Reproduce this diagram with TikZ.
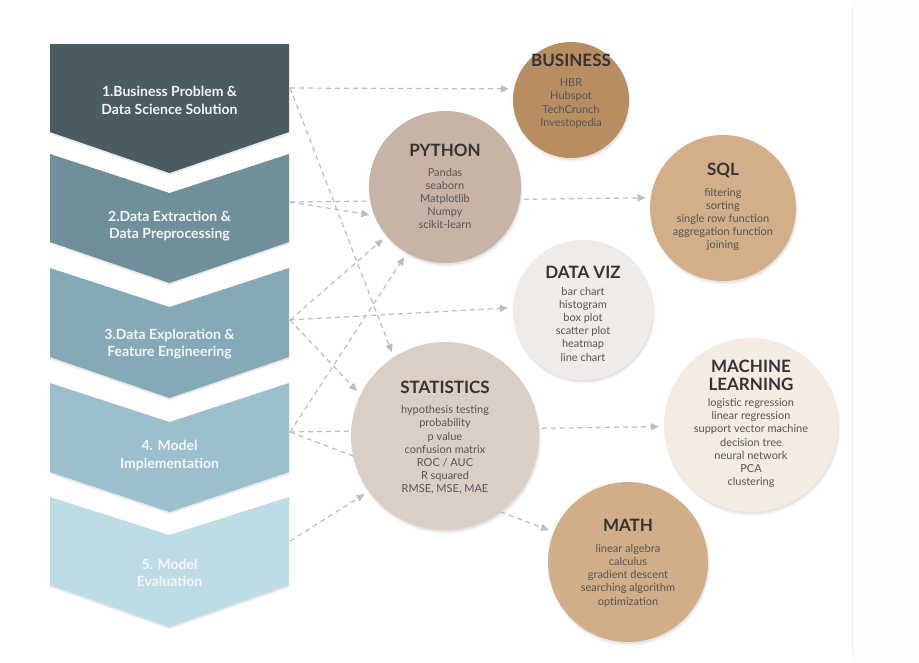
\documentclass[tikz,border=0pt]{standalone}
\usepackage{fontspec}
\setmainfont{Lato}
\usetikzlibrary{arrows.meta,shadows}

% step colours, top to bottom
\definecolor{stepA}{HTML}{4B5B63}
\definecolor{stepB}{HTML}{6F8F9B}
\definecolor{stepC}{HTML}{86A9B7}
\definecolor{stepD}{HTML}{9BBFCD}
\definecolor{stepE}{HTML}{BDDCE6}
% topic colours
\definecolor{cBus}{HTML}{B88D62}
\definecolor{cPy}{HTML}{C8B4A6}
\definecolor{cSql}{HTML}{D3AF89}
\definecolor{cViz}{HTML}{EFEBE8}
\definecolor{cStat}{HTML}{DBCEC5}
\definecolor{cMl}{HTML}{F4EBE3}
\definecolor{cMath}{HTML}{D1AE87}
\definecolor{ttlcol}{HTML}{333333}
\definecolor{itmcol}{HTML}{555555}
\definecolor{linkcol}{HTML}{BDBDBD}
\definecolor{panelcol}{HTML}{FDFDFD}
\definecolor{rulecol}{HTML}{F0F0F0}

\pgfdeclarelayer{links}
\pgfdeclarelayer{paper}
\pgfsetlayers{paper,links,main}

\tikzset{
  chev/.style={drop shadow={shadow xshift=0pt,shadow yshift=-2pt,opacity=0.18}},
  steptxt/.style={text=white!96!black,align=center,
    font=\fontsize{14}{17.5}\selectfont\bfseries},
  circ/.style={circle,inner sep=0pt,draw=none,
    drop shadow={shadow xshift=1.2pt,shadow yshift=-3pt,shadow scale=1.01,opacity=0.08},
    drop shadow={shadow xshift=0.8pt,shadow yshift=-2pt,opacity=0.14}},
  ttl/.style={text=ttlcol,align=center,font=\fontsize{17}{18}\selectfont\bfseries},
  itm/.style={text=itmcol,align=center,font=\fontsize{11}{13.2}\selectfont},
  link/.style={draw=linkcol,line width=1.2pt,dash pattern=on 5pt off 4pt,
    -{Triangle[length=8pt,width=7pt,fill=linkcol]},shorten >=5pt},
}

\begin{document}
\begin{tikzpicture}[x=1pt,y=-1pt]
\useasboundingbox (0,0) rectangle (919,662);
\begin{pgfonlayer}{paper}
  \fill[white] (0,0) rectangle (919,662);
  \fill[panelcol] (852,0) rectangle (919,662);
  \draw[rulecol,line width=0.6pt] (852,6) -- (852,655);
\end{pgfonlayer}

% process steps (chevrons)
\fill[stepA,chev] (50,44) -- (289,44) -- (289,132) -- (169.5,173) -- (50,132) -- cycle;
\fill[stepB,chev] (50,154) -- (169.5,193) -- (289,154) -- (289,242) -- (169.5,283) -- (50,242) -- cycle;
\fill[stepC,chev] (50,268) -- (169.5,307) -- (289,268) -- (289,357) -- (169.5,398) -- (50,357) -- cycle;
\fill[stepD,chev] (50,383) -- (169.5,422) -- (289,383) -- (289,472) -- (169.5,512) -- (50,472) -- cycle;
\fill[stepE,chev] (50,497) -- (169.5,535) -- (289,497) -- (289,585) -- (169.5,627) -- (50,585) -- cycle;

\node[steptxt] (s1) at (169.5,100.5) {1.Business Problem \&\\Data Science Solution};
\node[steptxt] (s2) at (169.5,226) {2.Data Extraction \&\\Data Preprocessing};
\node[steptxt] (s3) at (169.5,344) {3.Data Exploration \&\\Feature Engineering};
\node[steptxt] (s4) at (169.5,455.5) {4. Model\\Implementation};
\node[steptxt] (s5) at (169.5,573) {5. Model\\Evaluation};

\coordinate (o1) at (290,88);
\coordinate (o2) at (290,202);
\coordinate (o3) at (290,320);
\coordinate (o4) at (290,432);
\coordinate (o5) at (290,541);

% topic circles
\node[circ,fill=cBus,minimum size=116pt]  (bus) at (571,100) {};
\node[circ,fill=cPy,minimum size=152pt]   (py)  at (445,187) {};
\node[circ,fill=cSql,minimum size=146pt]  (sql) at (723,208) {};
\node[circ,fill=cViz,minimum size=140pt]  (dv)  at (583,310) {};
\node[circ,fill=cStat,minimum size=188pt] (st)  at (445,436) {};
\node[circ,fill=cMl,minimum size=174pt]   (ml)  at (751,425) {};
\node[circ,fill=cMath,minimum size=160pt] (ma)  at (628,562) {};

\node[ttl] (busT) at (571,60) {BUSINESS};
\node[itm] (busI) at (571,103.5) {HBR\\Hubspot\\TechCrunch\\Investopedia};

\node[ttl] (pyT) at (445,150) {PYTHON};
\node[itm] (pyI) at (445,198.5) {Pandas\\seaborn\\Matplotlib\\Numpy\\scikit-learn};

\node[ttl] (sqlT) at (723,170) {SQL};
\node[itm] (sqlI) at (723,219.5) {filtering\\sorting\\single row function\\aggregation function\\joining};

\node[ttl] (dvT) at (583,272) {DATA VIZ};
\node[itm] (dvI) at (583,324) {bar chart\\histogram\\box plot\\scatter plot\\heatmap\\line chart};

\node[ttl] (stT) at (445,387) {STATISTICS};
\node[itm] (stI) at (445,450) {hypothesis testing\\probability\\p value\\confusion matrix\\ROC / AUC\\R squared\\RMSE, MSE, MAE};

\node[ttl] (mlT) at (751,375) {MACHINE\\LEARNING};
\node[itm] (mlI) at (751,443) {logistic regression\\linear regression\\support vector machine\\decision tree\\neural network\\PCA\\clustering};

\node[ttl] (maT) at (628,525) {MATH};
\node[itm] (maI) at (628,575.5) {linear algebra\\calculus\\gradient descent\\searching algorithm\\optimization};

% connectors, drawn beneath the circles
\begin{pgfonlayer}{links}
  \draw[link] (o1) -- (bus.169);
  \draw[link] (o1) -- (st.123);
  \draw[link] (o2) -- (py.202);
  \draw[link] (o2) -- (sql.172);
  \draw[link] (o3) -- (py.220);
  \draw[link] (o3) -- (dv.178);
  \draw[link] (o3) -- (st.154);
  \draw[link] (o4) -- (py.240);
  \draw[link] (o4) -- (ml.181);
  \draw[link] (o4) -- (ma.158);
  \draw[link] (o5) -- (st.216);
\end{pgfonlayer}
\end{tikzpicture}
\end{document}
